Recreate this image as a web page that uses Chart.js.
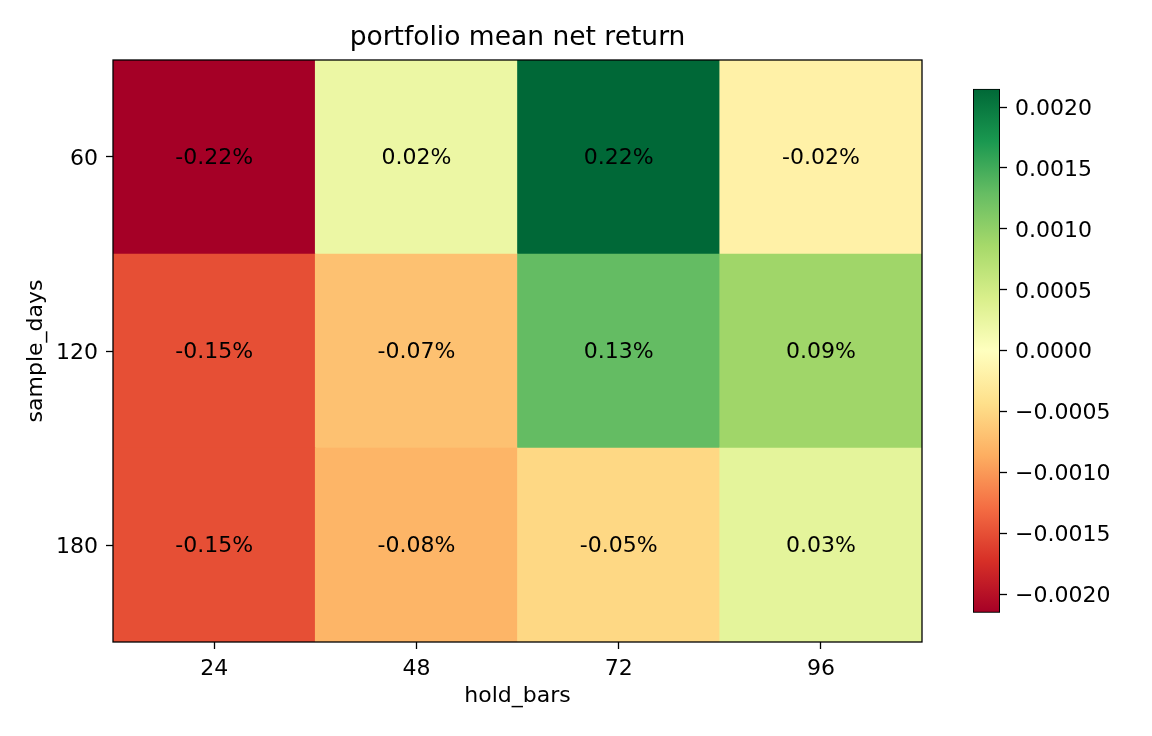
<!DOCTYPE html>
<html>
<head>
<meta charset="utf-8">
<script src="https://cdn.jsdelivr.net/npm/chart.js@4"></script>
<style>
  body { margin: 0; background: #fff; }
  #wrap { position: relative; width: 1152px; height: 736px; }
  canvas { position: absolute; }
</style>
</head>
<body>
<div id="wrap">
  <canvas id="heat" width="1152" height="736" style="left:0;top:0"></canvas>
  <canvas id="cbar" width="212" height="580" style="left:940px;top:60px"></canvas>
</div>
<script>
// Dados do heatmap
const holdBars = ['24', '48', '72', '96'];
const sampleDays = ['60', '120', '180'];
const ret60 = [-0.00215, 0.00022, 0.00215, -0.0002];
const ret120 = [-0.0015, -0.0007, 0.0013, 0.0009];
const ret180 = [-0.0015, -0.0008, -0.0005, 0.0003];
const cbarTicks = [-0.002, -0.0015, -0.001, -0.0005, 0, 0.0005, 0.001, 0.0015, 0.002];

const vmax = Math.max(...[...ret60, ...ret120, ...ret180].map(Math.abs));
const vmin = -vmax;

// RdYlGn
const rdylgn = ['#a50026', '#d73027', '#f46d43', '#fdae61', '#fee08b', '#ffffbf',
                '#d9ef8b', '#a6d96a', '#66bd63', '#1a9850', '#006837'];

function hexRgb(h) {
    return [parseInt(h.slice(1, 3), 16), parseInt(h.slice(3, 5), 16), parseInt(h.slice(5, 7), 16)];
}

function cmap(v) {
    let t = (v - vmin) / (vmax - vmin);
    t = Math.min(1, Math.max(0, t)) * (rdylgn.length - 1);
    const i = Math.min(Math.floor(t), rdylgn.length - 2);
    const f = t - i;
    const a = hexRgb(rdylgn[i]), b = hexRgb(rdylgn[i + 1]);
    const c = a.map((x, k) => Math.round(x + (b[k] - x) * f));
    return `rgb(${c[0]},${c[1]},${c[2]})`;
}

function pct(v) {
    return (v < 0 ? '-' : '') + (Math.round(Math.abs(v) * 1e4 + 1e-6) / 100).toFixed(2) + '%';
}

Chart.defaults.font.family = 'DejaVu Sans';
Chart.defaults.color = '#000';

const FS = 22;
// fonte dos ticks verticais: linha vazia + lineHeight pequeno = desce o texto ~2px
const vTickFont = { size: FS, lineHeight: 4 / FS };

const tickGrid = {
    drawOnChartArea: false,
    drawTicks: true,
    tickLength: 7,
    tickWidth: 1.3,
    tickColor: '#000',
};

// ordem de baixo para cima
const rowsBottomUp = [
    { label: sampleDays[2], values: ret180 },
    { label: sampleDays[1], values: ret120 },
    { label: sampleDays[0], values: ret60 },
];

// texto das células + moldura
const cellText = {
    id: 'cellText',
    afterDatasetsDraw(chart) {
        const c = chart.ctx;
        c.save();
        c.font = FS + 'px "DejaVu Sans"';
        c.fillStyle = '#000';
        c.textAlign = 'center';
        c.textBaseline = 'middle';
        chart.data.datasets.forEach((ds, di) => {
            chart.getDatasetMeta(di).data.forEach((el, i) => {
                c.fillText(pct(ds.values[i]), el.x, (el.y + el.base) / 2 + 1.5);
            });
        });
        const a = chart.chartArea;
        c.lineWidth = 1.3;
        c.strokeStyle = '#000';
        c.strokeRect(a.left, a.top, a.right - a.left, a.bottom - a.top);
        c.restore();
    }
};

new Chart(document.getElementById('heat'), {
    type: 'bar',
    data: {
        labels: holdBars,
        datasets: rowsBottomUp.map(r => ({
            label: r.label,
            values: r.values,
            data: r.values.map(() => 1),
            backgroundColor: r.values.map(cmap),
            borderWidth: 0,
            barPercentage: 1,
            categoryPercentage: 1,
        }))
    },
    options: {
        responsive: false,
        animation: false,
        layout: { padding: { left: 0, right: 230, top: 0, bottom: 0 } },
        plugins: {
            legend: { display: false },
            tooltip: { enabled: false },
            title: {
                display: true,
                fullSize: false,
                text: 'portfolio mean net return',
                color: '#000',
                font: { size: 26.5, weight: 'normal' },
                padding: { top: 22, bottom: 6.2 }
            }
        },
        scales: {
            x: {
                stacked: true,
                grid: { ...tickGrid, offset: false },
                border: { display: false },
                ticks: { font: { size: FS }, padding: 7, color: '#000' },
                title: { display: true, text: 'hold_bars', font: { size: FS }, color: '#000', padding: { top: 0, bottom: 26.8 } },
                afterFit(scale) { scale.height = 94; }
            },
            y: {
                stacked: true,
                min: 0,
                max: 3,
                grid: tickGrid,
                border: { display: false },
                afterBuildTicks(scale) {
                    scale.ticks = rowsBottomUp.map((r, i) => ({ value: i + 0.5 }));
                },
                ticks: {
                    font: vTickFont,
                    padding: 8,
                    color: '#000',
                    callback: (v, i) => ['', rowsBottomUp[i].label]
                },
                title: { display: true, text: 'sample_days', font: { size: FS }, color: '#000', padding: { top: 22.8, bottom: 0 } },
                afterFit(scale) { scale.width = 113; }
            }
        }
    },
    plugins: [cellText]
});

// barra de cores
new Chart(document.getElementById('cbar'), {
    type: 'bar',
    data: {
        labels: [''],
        datasets: [{
            data: [[vmin, vmax]],
            backgroundColor(ctx) {
                const ch = ctx.chart;
                if (!ch.chartArea) return '#fff';
                const y = ch.scales.y;
                const g = ch.ctx.createLinearGradient(0, y.getPixelForValue(vmin), 0, y.getPixelForValue(vmax));
                rdylgn.forEach((col, i) => g.addColorStop(i / (rdylgn.length - 1), col));
                return g;
            },
            borderColor: '#000',
            borderWidth: 1.3,
            borderSkipped: false,
            barPercentage: 1,
            categoryPercentage: 1,
        }]
    },
    options: {
        responsive: false,
        animation: false,
        layout: { padding: { left: 33, right: 0, top: 28.8, bottom: 27.3 } },
        plugins: { legend: { display: false }, tooltip: { enabled: false } },
        scales: {
            x: { display: false },
            y: {
                position: 'right',
                min: vmin,
                max: vmax,
                grid: tickGrid,
                border: { display: false },
                afterBuildTicks(scale) {
                    scale.ticks = cbarTicks.map(v => ({ value: v }));
                },
                ticks: {
                    font: vTickFont,
                    padding: 8,
                    color: '#000',
                    callback: v => ['', (v < 0 ? '\u2212' : '') + Math.abs(v).toFixed(4)]
                },
                afterFit(scale) { scale.width = 152; }
            }
        }
    }
});
</script>
</body>
</html>
